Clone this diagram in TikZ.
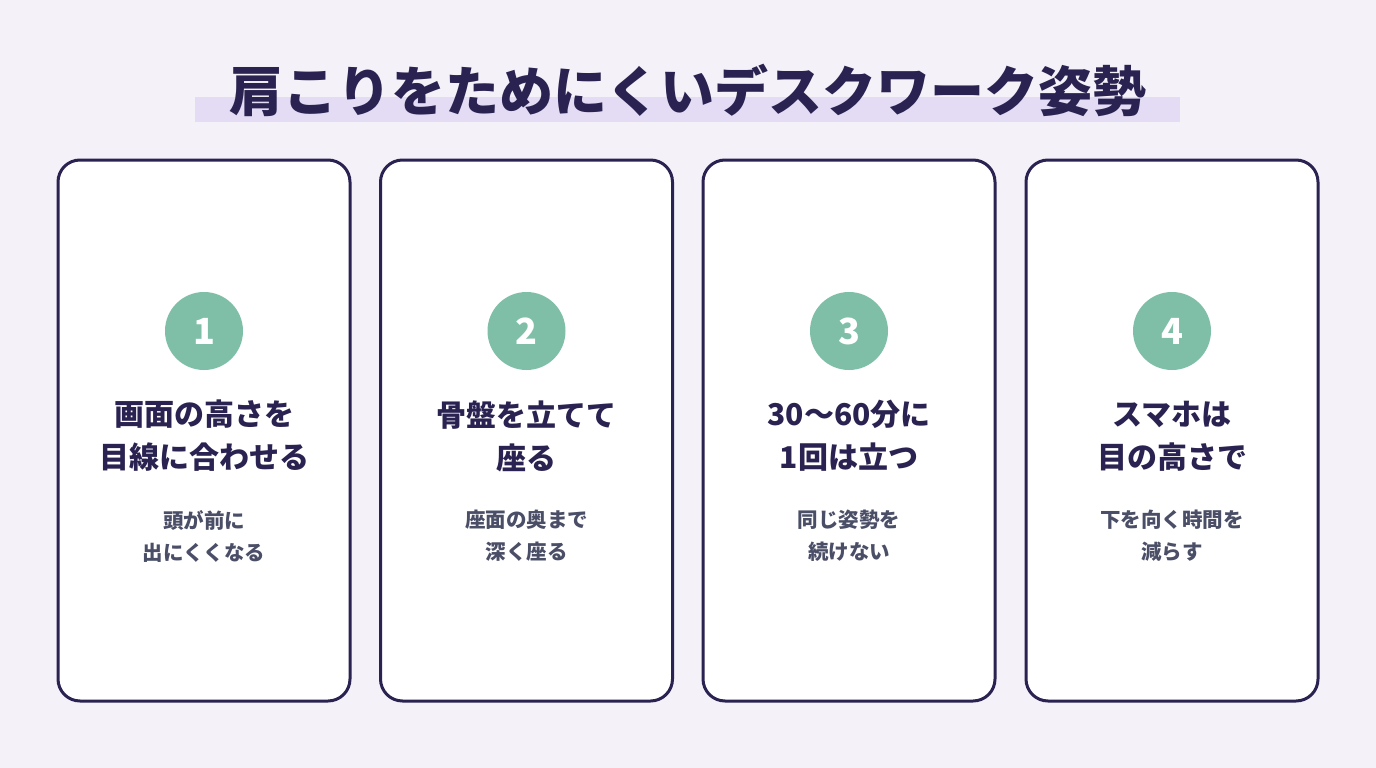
\documentclass[tikz,border=0pt]{standalone}
\usepackage{fontspec}
\setmainfont{Noto Sans CJK JP}
\definecolor{bg}{HTML}{F4F1F8}
\definecolor{hl}{HTML}{E3DCF4}
\definecolor{ink}{HTML}{2A2250}
\definecolor{teal}{HTML}{7FBFA8}
\definecolor{sub}{HTML}{4A4E66}
\begin{document}
\begin{tikzpicture}[x=1pt,y=-1pt,
 card/.style={draw=ink,line width=3pt,fill=white,rounded corners=22pt},
 num/.style={circle,fill=teal,minimum size=78pt,inner sep=0pt,text=white,font=\fontsize{36}{36}\selectfont\bfseries},
 head/.style={text=ink,align=center,font=\fontsize{30}{43}\selectfont\bfseries},
 desc/.style={text=sub,align=center,font=\fontsize{20.5}{32}\selectfont\bfseries}]
\fill[bg] (0,0) rectangle (1376,768);
\fill[hl] (195,97) rectangle (1180,122);
\node[text=ink,font=\fontsize{54}{54}\selectfont\bfseries] (title) at (688,90) {肩こりをためにくいデスクワーク姿勢};
\foreach \i/\x/\h/\d in {1/204/{画面の高さを\\目線に合わせる}/{頭が前に\\出にくくなる},
 2/526.5/{骨盤を立てて\\座る}/{座面の奥まで\\深く座る},
 3/849/{30〜60分に\\1回は立つ}/{同じ姿勢を\\続けない},
 4/1172/{スマホは\\目の高さで}/{下を向く時間を\\減らす}}{
 \draw[card] (\x-146,160) rectangle (\x+146,701);
 \node[num] (n\i) at (\x,331) {\i};
 \node[head] (h\i) at (\x,436) {\h};
 \node[desc] (d\i) at (\x,536) {\d};
}
\end{tikzpicture}
\end{document}
